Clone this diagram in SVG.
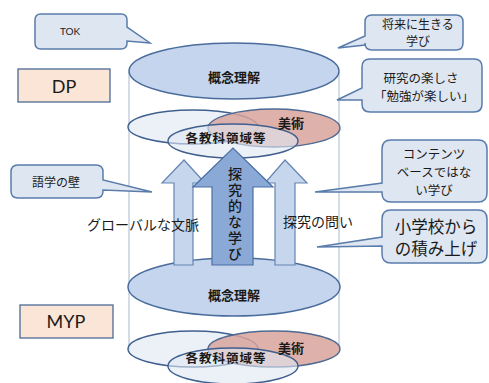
<svg xmlns="http://www.w3.org/2000/svg" width="489" height="383" viewBox="0 0 489 383">
<style>
.jp{font-family:"Noto Sans CJK JP","Noto Sans",sans-serif;fill:#1a1a1a;text-anchor:middle}
.lat{font-family:Lato,"Liberation Sans",sans-serif;fill:#1a1a1a;text-anchor:middle}
.call{fill:#dee6f2;stroke:#5a7cab;stroke-width:1.5}
.lvl{fill:#fbe5d6;stroke:#4a6a94;stroke-width:1.3}
.big{fill:#c4d5ed;stroke:#4a6c9c;stroke-width:1.5}
.lite{fill:#dfe7f4;fill-opacity:0.6;stroke:#3f5f8e;stroke-width:1.4}
.pink{fill:#d8a39c;fill-opacity:0.85;stroke:#4e6a92;stroke-width:1.4}
.side{fill:#c6d6ec;stroke:#6585b3;stroke-width:1.2}
.mid{fill:#8aa9d6;stroke:#4b6fa3;stroke-width:1.2}
.b{font-weight:bold}
</style>
<rect width="489" height="383" fill="#ffffff"/>
<g id="cylinder">
<line x1="129" y1="72" x2="129" y2="352" stroke="#a9b8cf" stroke-width="1"/>
<line x1="339" y1="72" x2="339" y2="350" stroke="#a9b8cf" stroke-width="1"/>
</g>
<g id="dp-concept">
<ellipse class="big" cx="234" cy="71" rx="105" ry="28"/>
<text class="jp b" x="234" y="82" font-size="13">概念理解</text>
</g>
<g id="dp-subjects">
<ellipse class="lite" cx="193" cy="127" rx="65" ry="17"/>
<ellipse class="pink" cx="274" cy="128" rx="66" ry="19"/>
<ellipse class="lite" cx="233" cy="141" rx="65" ry="17"/>
<text class="jp b" x="291" y="128" font-size="13">美術</text>
<text class="jp b" x="226" y="143" font-size="12.5" letter-spacing="1">各教科領域等</text>
</g>
<g id="myp-concept">
<ellipse class="big" cx="234" cy="287" rx="106" ry="29"/>
<text class="jp b" x="234" y="300" font-size="13">概念理解</text>
</g>
<g id="connectors">
<path class="side" d="M174,265 V183 H162 L184,160 L205,183 H193 V265 Z"/>
<path class="side" d="M275,265 V183 H265 L285,160 L307,183 H295 V265 Z"/>
<path class="mid" d="M212,265 V187 H193 L233,148 L273,187 H253 V265 Z"/>
</g>
<g id="myp-subjects">
<ellipse class="lite" cx="193" cy="349" rx="65" ry="18"/>
<ellipse class="pink" cx="274" cy="349" rx="66" ry="18"/>
<ellipse class="lite" cx="233" cy="366" rx="65" ry="18"/>
<text class="jp b" x="291" y="353" font-size="13">美術</text>
<text class="jp b" x="226" y="363" font-size="12.5" letter-spacing="1">各教科領域等</text>
</g>
<g id="inquiry-learning">
<text x="235" y="167" font-size="14" font-weight="500" letter-spacing="2" style="writing-mode:vertical-rl;text-anchor:start;font-family:'Noto Sans CJK JP','Noto Sans',sans-serif;fill:#1a1a1a">探究的な学び</text>
</g>
<g id="global-context">
<text class="jp" x="143" y="230" font-size="14">グローバルな文脈</text>
</g>
<g id="inquiry-question">
<text class="jp" x="318" y="227" font-size="14">探究の問い</text>
</g>
<g id="dp">
<rect class="lvl" x="18" y="69" width="92" height="33"/>
<text class="lat" x="64" y="93" font-size="18">DP</text>
</g>
<g id="myp">
<rect class="lvl" x="20" y="305" width="93" height="33"/>
<text class="lat" x="66" y="328" font-size="18">MYP</text>
</g>
<g id="tok">
<path class="call" d="M41,14 H121 Q127,14 127,20 V27 L150,43 L127,41 V43 Q127,49 121,49 H41 Q35,49 35,43 V20 Q35,14 41,14 Z"/>
<text class="lat" x="70" y="35" font-size="10">TOK</text>
</g>
<g id="future">
<path class="call" d="M372,15 H456 Q463,15 463,22 V43 Q463,50 456,50 H372 Q365,50 365,43 V45 L338,48 L365,36 V22 Q365,15 372,15 Z"/>
<text class="jp" font-size="12"><tspan x="418" y="29">将来に生きる</tspan><tspan x="418" y="46">学び</tspan></text>
</g>
<g id="research">
<path class="call" d="M370,59 H474 Q482,59 482,67 V104 Q482,112 474,112 H370 Q362,112 362,104 V100 L337,100 L362,88 V67 Q362,59 370,59 Z"/>
<text class="jp" font-size="12.5"><tspan x="421" y="83">研究の楽しさ</tspan><tspan x="424" y="101">「勉強が楽しい」</tspan></text>
</g>
<g id="language">
<path class="call" d="M18,165 H96 Q103,165 103,172 V180 L152,192 L103,190 V191 Q103,198 96,198 H18 Q11,198 11,191 V172 Q11,165 18,165 Z"/>
<text class="jp" x="56" y="187" font-size="12">語学の壁</text>
</g>
<g id="content">
<path class="call" d="M391,140 H478 Q487,140 487,149 V193 Q487,202 478,202 H391 Q382,202 382,193 V192 L315,192 L382,183 V149 Q382,140 391,140 Z"/>
<text class="jp" font-size="12.5"><tspan x="434" y="159">コンテンツ</tspan><tspan x="434" y="177">ベースではな</tspan><tspan x="434" y="195">い学び</tspan></text>
</g>
<g id="elementary">
<path class="call" d="M391,210 H478 Q487,210 487,219 V254 Q487,263 478,263 H391 Q382,263 382,254 V246 L317,247 L382,237 V219 Q382,210 391,210 Z"/>
<text class="jp" font-size="16.5"><tspan x="436" y="233">小学校から</tspan><tspan x="436" y="255">の積み上げ</tspan></text>
</g>
</svg>
